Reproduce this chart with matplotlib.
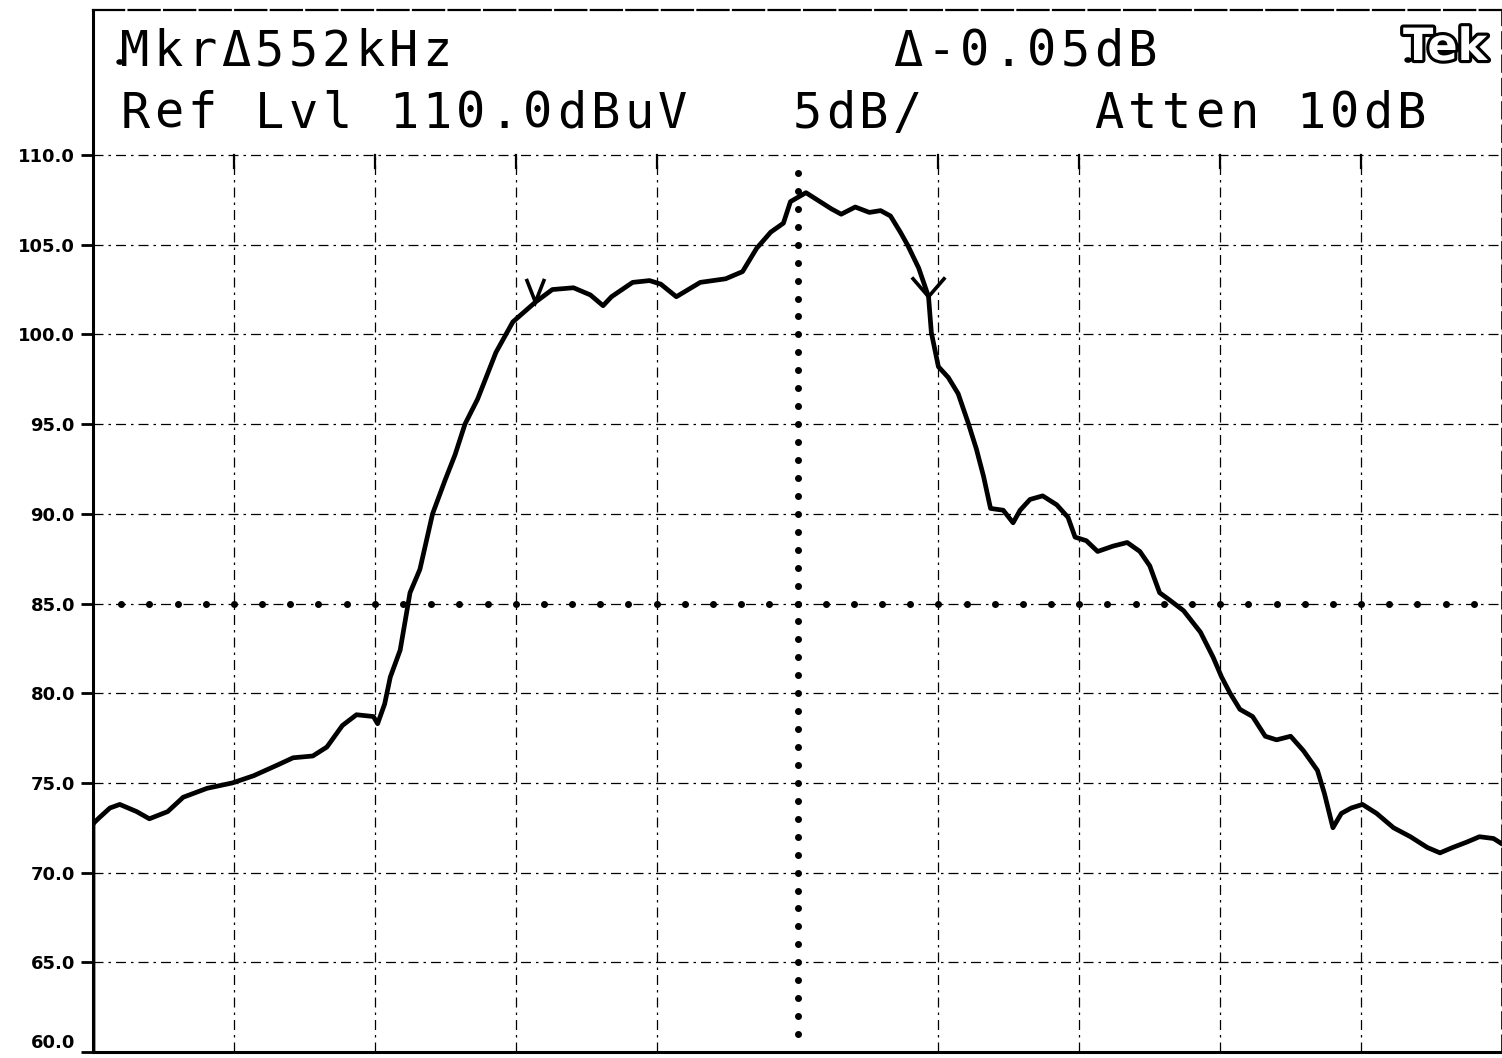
import numpy as np
import matplotlib
matplotlib.use("Agg")
import matplotlib.pyplot as plt
import matplotlib.patheffects as pe

# trace: x in screen divisions (0-10), level in dBuV
trace_x = [0.00, 0.00, 0.01, 0.05, 0.12, 0.19, 0.31, 0.40, 0.53, 0.64, 0.81, 0.99,
           1.14, 1.31, 1.42, 1.56, 1.66, 1.77, 1.87, 1.99, 2.02, 2.07, 2.11, 2.18,
           2.25, 2.32, 2.41, 2.50, 2.57, 2.64, 2.73, 2.86, 2.98, 3.14, 3.26, 3.41,
           3.53, 3.62, 3.68, 3.83, 3.95, 4.03, 4.14, 4.31, 4.49, 4.61, 4.71, 4.81,
           4.90, 4.95, 5.06, 5.16, 5.24, 5.31, 5.41, 5.51, 5.59, 5.66, 5.73, 5.78,
           5.86, 5.93, 5.95, 6.00, 6.07, 6.14, 6.21, 6.27, 6.32, 6.37, 6.46, 6.53,
           6.58, 6.65, 6.74, 6.84, 6.92, 6.97, 7.05, 7.13, 7.24, 7.34, 7.43, 7.50,
           7.57, 7.64, 7.74, 7.86, 7.95, 8.01, 8.07, 8.14, 8.23, 8.32, 8.40, 8.50,
           8.59, 8.69, 8.74, 8.80, 8.86, 8.93, 9.01, 9.11, 9.23, 9.35, 9.47, 9.56,
           9.65, 9.75, 9.84, 9.94, 10.00]
trace_db = [60.0, 72.7, 72.8, 73.1, 73.6, 73.8, 73.4, 73.0, 73.4, 74.2, 74.7, 75.0,
            75.4, 76.0, 76.4, 76.5, 77.0, 78.2, 78.8, 78.7, 78.3, 79.4, 80.9, 82.4,
            85.6, 86.9, 90.0, 91.9, 93.3, 95.0, 96.4, 99.0, 100.7, 101.8, 102.5, 102.6,
            102.2, 101.6, 102.1, 102.9, 103.0, 102.8, 102.1, 102.9, 103.1, 103.5, 104.8, 105.7,
            106.2, 107.4, 107.9, 107.4, 107.0, 106.7, 107.1, 106.8, 106.9, 106.6, 105.7, 105.0,
            103.7, 102.1, 100.1, 98.2, 97.6, 96.7, 95.1, 93.6, 92.1, 90.3, 90.2, 89.5,
            90.2, 90.8, 91.0, 90.5, 89.8, 88.7, 88.5, 87.9, 88.2, 88.4, 87.9, 87.1,
            85.6, 85.2, 84.6, 83.4, 82.0, 80.9, 80.0, 79.1, 78.7, 77.6, 77.4, 77.6,
            76.8, 75.7, 74.4, 72.5, 73.3, 73.6, 73.8, 73.3, 72.5, 72.0, 71.4, 71.1,
            71.4, 71.7, 72.0, 71.9, 71.6]

y_ticks = [60, 65, 70, 75, 80, 85, 90, 95, 100, 105, 110]
x_grid = [1, 2, 3, 4, 6, 7, 8, 9]
marker_x = [3.14, 5.93]
display_line_db = 85.0
center_x = 5.0

line1 = "MkrΔ552kHz             Δ-0.05dB"
line2 = "Ref Lvl 110.0dBuV   5dB/     Atten 10dB"

W, H = 1502, 1058
fig = plt.figure(figsize=(W / 100, H / 100), dpi=100)
ax = fig.add_axes([93 / W, 6 / H, 1 - 93 / W, (1052 - 10) / H])
ax.set_xlim(0, 10)
ax.set_ylim(60, 110 + (155 - 10) / 17.94)

grid_style = dict(color="black", lw=0.9, ls=(0, (8, 4, 2, 4)))
for y in y_ticks[1:]:
    ax.axhline(y, **grid_style, zorder=1)
for x in x_grid:
    ax.plot([x, x], [60, 110], **grid_style, zorder=1)
    ax.plot([x, x], [109.3, 110], color="black", lw=1.6, zorder=1)
ax.plot([10, 10], [60, 110], **grid_style, zorder=1)

# display line and center marker line
ax.plot(np.arange(0.2, 10.0, 0.2), np.full(49, display_line_db), "o",
        color="black", ms=4, zorder=2)
ax.plot(np.full(49, center_x), np.arange(61, 110, 1.0), "o",
        color="black", ms=4, zorder=2)

ax.plot(trace_x, trace_db, color="black", lw=3.4, zorder=3,
        solid_joinstyle="round", solid_capstyle="round")

# delta markers
for mx, hw, up in zip(marker_x, [0.06, 0.11], [1.2, 1.0]):
    my = np.interp(mx, trace_x, trace_db)
    ax.plot([mx - hw, mx, mx + hw], [my + up, my, my + up], color="black",
            lw=2.6, zorder=4, solid_joinstyle="miter")

ax.set_yticks(y_ticks)
ax.set_yticklabels(["%.1f" % v for v in y_ticks], fontsize=13,
                   fontweight="bold", family="DejaVu Sans")
ax.get_yticklabels()[0].set_va("bottom")
ax.set_xticks([])
ax.tick_params(axis="y", direction="out", length=9, width=2, pad=4)

for side in ["left", "bottom"]:
    ax.spines[side].set_linewidth(2.2)
ax.spines["top"].set_linewidth(1.6)
ax.spines["top"].set_linestyle((0, (14, 2)))
ax.spines["right"].set_linewidth(1.2)
ax.spines["right"].set_linestyle((0, (10, 4)))

# header text, fixed pitch like the instrument display
pitch = 33.6
for row, (txt, base) in enumerate([(line1, 66), (line2, 128)]):
    for i, ch in enumerate(txt):
        if ch == " ":
            continue
        fig.text((118 + (i + 0.5) * pitch) / W, 1 - base / H, ch,
                 family="DejaVu Sans Mono", fontsize=35, ha="center",
                 va="baseline", color="black")

fig.text(1403 / W, 1 - 60 / H, "Tek", family="DejaVu Sans", fontsize=32,
         fontweight="bold", color="white", ha="left", va="baseline",
         path_effects=[pe.withStroke(linewidth=4.5, foreground="black")])
fig.patches.append(plt.Circle((120 / W, 1 - 62 / H), 3 / W, color="black",
                              transform=fig.transFigure))
fig.patches.append(plt.Circle((1408 / W, 1 - 60 / H), 3 / W, color="black",
                              transform=fig.transFigure))

fig.savefig("out.png", dpi=100, facecolor="white")
